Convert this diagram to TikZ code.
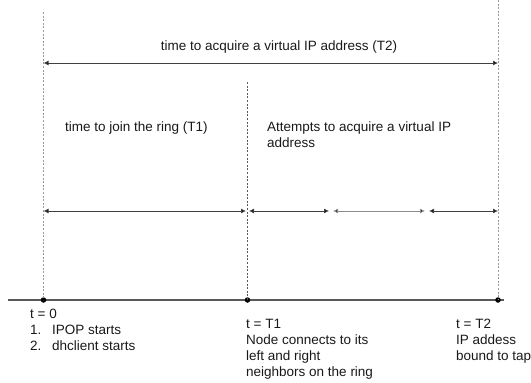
\documentclass[tikz,border=0pt]{standalone}
\usepackage{fontspec}
\setmainfont{Liberation Sans}
\usetikzlibrary{arrows.meta}
\tikzset{
  guide/.style={draw=gray!80, line width=0.8pt, dash pattern=on 2pt off 1.6pt},
  guidedark/.style={draw=black!65, line width=0.8pt, dash pattern=on 2pt off 1.6pt},
  span/.style={draw=black!75, line width=0.8pt, {Latex[length=5pt,width=5pt,fill=black]}-{Latex[length=5pt,width=5pt,fill=black]}},
  axis/.style={draw=black!65, line width=1.3pt},
  tick/.style={circle, fill=black, inner sep=0pt, minimum size=5.5pt},
  lbl/.style={font=\fontsize{13.5}{16}\selectfont, inner sep=0pt, text=black!90, anchor=base west},
}
\begin{document}
\begin{tikzpicture}[x=1pt, y=-1pt]
\useasboundingbox (0,0) rectangle (531,383);
% timeline
\coordinate (axL) at (8,300);
\coordinate (axR) at (504,300);
\draw[axis] (axL) -- (axR);
% guide tops
\coordinate (g0) at (43.5,12);
\coordinate (g1) at (247.5,82);
\coordinate (g2) at (498,0);
\node[tick] (t0) at (43.5,300) {};
\node[tick] (t1) at (247.5,300) {};
\node[tick] (t2) at (498,300) {};
\draw[guide] (g0) -- (t0.center);
\draw[guidedark] (g1) -- (t1.center);
\draw[guide] (g2) -- (t2.center);
% T2 span
\coordinate (a0) at (43.5,63);
\coordinate (a1) at (498,63);
\draw[span] (a0) -- (a1);
\node[lbl, anchor=base] (lT2) at (279,50) {time to acquire a virtual IP address (T2)};
% lower spans
\coordinate (b0) at (43.5,211);
\coordinate (b1) at (246,211);
\coordinate (b2) at (249,211);
\coordinate (b3) at (329,211);
\coordinate (b4) at (333,211);
\coordinate (b5) at (425,211);
\coordinate (b6) at (429,211);
\coordinate (b7) at (498,211);
\draw[span] (b0) -- (b1);
\draw[span] (b2) -- (b3);
\draw[span, draw=black!45] (b4) -- (b5);
\draw[span] (b6) -- (b7);
\node[lbl] (lT1) at (65,131) {time to join the ring (T1)};
\node[lbl] (lAtt1) at (267,131) {Attempts to acquire a virtual IP};
\node[lbl] (lAtt2) at (267,147) {address};
% bottom labels
\node[lbl] (x0a) at (30,318) {t = 0};
\node[lbl] (x0b) at (30,334) {\makebox[22pt][l]{1.}IPOP starts};
\node[lbl] (x0c) at (30,350) {\makebox[22pt][l]{2.}dhclient starts};
\node[lbl] (x1a) at (246,328) {t = T1};
\node[lbl] (x1b) at (246,344) {Node connects to its};
\node[lbl] (x1c) at (246,360) {left and right};
\node[lbl] (x1d) at (246,376) {neighbors on the ring};
\node[lbl] (x2a) at (456,328) {t = T2};
\node[lbl] (x2b) at (456,344) {IP addess};
\node[lbl] (x2c) at (456,360) {bound to tap};
\end{tikzpicture}
\end{document}
